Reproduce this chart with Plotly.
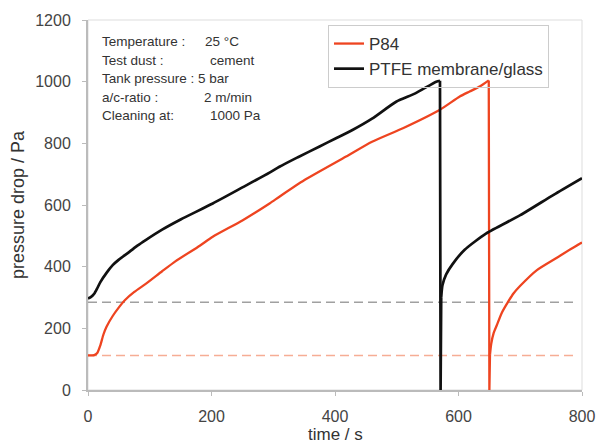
import plotly.graph_objects as go

# PTFE membrane/glass (black): filtration cycle, cleaning drop, next cycle
ptfe_t = [0, 5, 10, 15, 20, 30, 40, 50, 67, 80, 94, 120, 150, 202, 250, 294, 310, 340, 375, 400, 429, 460, 499, 530, 564, 570,
          571,
          572, 574, 580, 591, 610, 645, 700, 754, 800]
ptfe_p = [297, 302, 312, 330, 350, 380, 405, 423, 448, 468, 487, 520, 553, 605, 657, 705, 724, 755, 790, 815, 844, 880, 935, 962, 1000, 1003,
          0,
          300, 340, 375, 410, 455, 508, 567, 633, 687]

# P84 (red)
p84_t = [0, 10, 15, 20, 25, 30, 40, 50, 60, 75, 94, 120, 142, 181, 202, 250, 294, 310, 350, 418, 460, 510, 570, 602, 618, 635, 649,
         650,
         651, 653, 657, 662, 670, 680, 689, 700, 727, 760, 797, 800]
p84_p = [112, 113, 120, 145, 180, 205, 240, 268, 292, 318, 345, 385, 418, 468, 497, 550, 605, 627, 680, 757, 805, 849, 909, 952, 968, 985, 1004,
         0,
         115, 150, 185, 210, 250, 285, 313, 338, 389, 430, 475, 478]

# reference levels (initial pressure drops)
ref_t = [0, 790]
ref_ptfe = [285, 285]
ref_p84 = [112, 112]

x_ticks = [0, 200, 400, 600, 800]
y_ticks = [0, 200, 400, 600, 800, 1000, 1200]

info_labels = ["Temperature :", "Test dust :", "Tank pressure :", "a/c-ratio :", "Cleaning at:"]
info_values = ["25 °C", "cement", "5 bar", "2 m/min", "1000 Pa"]

RED = "#ee4420"
BLACK = "#111111"
FONT = "Liberation Sans, Arial, sans-serif"

fig = go.Figure()
fig.add_trace(go.Scatter(x=ref_t, y=ref_ptfe, mode="lines", showlegend=False, hoverinfo="skip",
                         line=dict(color="#a0a0a0", width=1.5, dash="9px,5px")))
fig.add_trace(go.Scatter(x=ref_t, y=ref_p84, mode="lines", showlegend=False, hoverinfo="skip",
                         line=dict(color="#f6ad95", width=1.5, dash="9px,5px")))


def add_series(ts, ps, name, color, width):
    z = ps.index(0)
    # first cycle (smooth)
    fig.add_trace(go.Scatter(x=ts[:z], y=ps[:z], mode="lines", name=name, legendgroup=name,
                             line=dict(color=color, width=width, shape="spline", smoothing=0.6)))
    # cleaning drop (straight)
    fig.add_trace(go.Scatter(x=ts[z - 1:z + 2], y=ps[z - 1:z + 2], mode="lines", name=name, legendgroup=name,
                             showlegend=False, line=dict(color=color, width=width)))
    # next cycle (smooth)
    fig.add_trace(go.Scatter(x=ts[z + 1:], y=ps[z + 1:], mode="lines", name=name, legendgroup=name,
                             showlegend=False, line=dict(color=color, width=width, shape="spline", smoothing=0.6)))


add_series(p84_t, p84_p, "P84", RED, 2.3)
add_series(ptfe_t, ptfe_p, "PTFE membrane/glass", BLACK, 2.7)

plot_l, plot_r, plot_t, plot_b = 88, 582, 20, 390
pw, ph = plot_r - plot_l, plot_b - plot_t

# info text block
value_x = [203, 208, 196, 202, 208]
line_y = [42, 60, 78.5, 97, 115]
for lab, val, vx, ly in zip(info_labels, info_values, value_x, line_y):
    yp = (plot_b - ly) / ph
    fig.add_annotation(x=(100 - plot_l) / pw, y=yp, xref="paper", yref="paper", text=lab, showarrow=False,
                       xanchor="left", yanchor="middle", font=dict(size=13.5, color="#333", family=FONT))
    fig.add_annotation(x=(vx - plot_l) / pw, y=yp, xref="paper", yref="paper", text=val, showarrow=False,
                       xanchor="left", yanchor="middle", font=dict(size=13.5, color="#333", family=FONT))

# axis titles
fig.add_annotation(x=0.5, y=(plot_b - 434) / ph, xref="paper", yref="paper", text="time / s", showarrow=False,
                   xanchor="center", yanchor="middle", font=dict(size=17, color="#333", family=FONT))
fig.add_annotation(x=(18 - plot_l) / pw, y=(plot_b - 205) / ph, xref="paper", yref="paper",
                   text="pressure drop / Pa", showarrow=False, textangle=-90,
                   xanchor="center", yanchor="middle", font=dict(size=18, color="#333", family=FONT))

# light frame on top/right
fig.add_shape(type="rect", xref="paper", yref="paper", x0=0, y0=0, x1=1, y1=1,
              line=dict(color="#dddddd", width=1), layer="below")

fig.update_layout(
    width=598, height=445,
    margin=dict(l=plot_l, r=598 - plot_r, t=plot_t, b=445 - plot_b, autoexpand=False),
    paper_bgcolor="white", plot_bgcolor="white",
    font=dict(family=FONT, size=16, color="#333"),
    showlegend=True,
    legend=dict(x=(328 - plot_l) / pw, y=(plot_b - 25) / ph, xanchor="left", yanchor="top",
                bordercolor="#cccccc", borderwidth=1, bgcolor="rgba(255,255,255,0)",
                font=dict(size=17, color="#333", family=FONT),
                itemwidth=30, tracegroupgap=0, traceorder="normal", entrywidth=212),
    xaxis=dict(range=[0, 800], tickvals=x_ticks, showgrid=False, zeroline=False,
               showline=True, linecolor="#bbbbbb", linewidth=2,
               ticks="outside", ticklen=4, tickcolor="#bbbbbb", automargin=False,
               tickfont=dict(size=16, color="#444"), ticklabelstandoff=7),
    yaxis=dict(range=[0, 1200], tickvals=y_ticks, showgrid=False, zeroline=False,
               showline=True, linecolor="#bbbbbb", linewidth=2,
               ticks="outside", ticklen=4, tickcolor="#bbbbbb", automargin=False,
               tickfont=dict(size=16, color="#444"), ticklabelstandoff=8),
)

fig.write_html("out.html", config={"displayModeBar": False},
               post_script="document.body.style.margin='0';document.body.style.overflow='hidden';")
